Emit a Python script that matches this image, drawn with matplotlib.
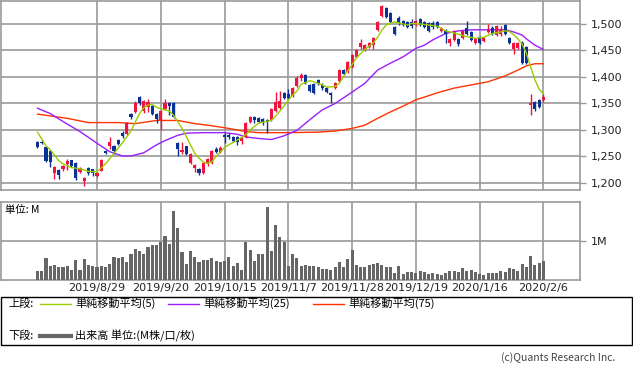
import numpy as np
import matplotlib
matplotlib.use("Agg")
import matplotlib.pyplot as plt
from matplotlib.patches import Rectangle
from matplotlib.lines import Line2D

plt.rcParams['font.family'] = ['Noto Sans CJK JP', 'DejaVu Sans']

# 日付ラベル (取引日インデックス上の位置)
date_labels = ["2019/8/29", "2019/9/20", "2019/10/15", "2019/11/7",
               "2019/11/28", "2019/12/19", "2020/1/16", "2020/2/6"]
date_pos = [14, 29, 44, 59, 74, 89, 104, 119]

opens = [1278, 1277, 1267, 1260, 1219, 1224, 1226, 1236, 1243, 1238,
         1221, 1204, 1228, 1226, 1213, 1223, 1261, 1270, 1270, 1281,
         1295, 1292, 1330, 1334, 1363, 1336, 1343, 1346, 1331, 1318,
         1340, 1350, 1350, 1276, 1259, 1269, 1238, 1229, 1227, 1219,
         1235, 1237, 1265, 1259, 1290, 1290, 1287, 1286, 1280, 1287,
         1316, 1324, 1322, 1320, 1319, 1319, 1336, 1341, 1369, 1368,
         1364, 1383, 1398, 1404, 1385, 1387, 1394, 1385, 1380, 1370,
         1379, 1393, 1414, 1410, 1419, 1438, 1456, 1451, 1456, 1460,
         1489, 1515, 1530, 1521, 1494, 1511, 1505, 1503, 1503, 1498,
         1509, 1504, 1501, 1501, 1504, 1487, 1489, 1464, 1469, 1471,
         1473, 1492, 1484, 1464, 1476, 1468, 1485, 1492, 1479, 1481,
         1498, 1473, 1452, 1455, 1465, 1456, 1347, 1353, 1357, 1357]
highs = [1280, 1281, 1268, 1262, 1232, 1226, 1234, 1245, 1244, 1240,
         1231, 1212, 1230, 1227, 1221, 1246, 1263, 1286, 1271, 1283,
         1298, 1315, 1333, 1354, 1365, 1357, 1358, 1348, 1332, 1337,
         1358, 1352, 1353, 1278, 1278, 1270, 1257, 1236, 1228, 1240,
         1247, 1263, 1267, 1270, 1295, 1294, 1289, 1288, 1287, 1315,
         1326, 1326, 1324, 1322, 1321, 1341, 1372, 1373, 1371, 1378,
         1382, 1401, 1408, 1406, 1387, 1389, 1396, 1389, 1382, 1372,
         1390, 1416, 1416, 1431, 1443, 1453, 1471, 1462, 1466, 1475,
         1505, 1535, 1532, 1523, 1496, 1516, 1507, 1505, 1509, 1508,
         1512, 1506, 1503, 1505, 1506, 1494, 1491, 1474, 1488, 1473,
         1488, 1506, 1486, 1473, 1478, 1476, 1500, 1496, 1498, 1496,
         1500, 1475, 1466, 1466, 1467, 1458, 1367, 1355, 1359, 1368]
lows = [1266, 1273, 1240, 1231, 1207, 1207, 1222, 1225, 1230, 1205,
        1219, 1194, 1216, 1213, 1211, 1222, 1254, 1265, 1255, 1271,
        1285, 1290, 1321, 1332, 1347, 1333, 1334, 1329, 1313, 1300,
        1338, 1328, 1322, 1250, 1255, 1252, 1236, 1221, 1215, 1217,
        1233, 1235, 1257, 1257, 1276, 1283, 1278, 1272, 1274, 1285,
        1314, 1313, 1314, 1310, 1294, 1317, 1334, 1339, 1358, 1358,
        1362, 1381, 1393, 1386, 1372, 1368, 1385, 1375, 1370, 1350,
        1377, 1391, 1404, 1408, 1417, 1436, 1453, 1449, 1454, 1452,
        1487, 1513, 1511, 1502, 1480, 1498, 1497, 1493, 1492, 1496,
        1497, 1493, 1485, 1490, 1492, 1484, 1464, 1459, 1467, 1458,
        1471, 1480, 1467, 1462, 1463, 1466, 1483, 1480, 1477, 1478,
        1480, 1463, 1443, 1453, 1425, 1425, 1328, 1335, 1341, 1353]
closes = [1268, 1275, 1242, 1240, 1230, 1215, 1232, 1241, 1232, 1209,
          1229, 1209, 1218, 1218, 1219, 1243, 1256, 1278, 1261, 1273,
          1289, 1313, 1325, 1351, 1350, 1354, 1353, 1331, 1320, 1335,
          1350, 1345, 1324, 1264, 1263, 1254, 1255, 1234, 1219, 1238,
          1245, 1261, 1259, 1266, 1287, 1286, 1280, 1278, 1284, 1313,
          1324, 1318, 1316, 1315, 1315, 1339, 1353, 1355, 1360, 1360,
          1380, 1399, 1404, 1388, 1374, 1370, 1387, 1380, 1372, 1366,
          1388, 1414, 1406, 1429, 1441, 1451, 1464, 1460, 1464, 1473,
          1503, 1533, 1513, 1504, 1482, 1501, 1499, 1495, 1497, 1506,
          1499, 1495, 1487, 1495, 1494, 1492, 1481, 1472, 1486, 1462,
          1486, 1482, 1469, 1471, 1465, 1474, 1490, 1482, 1496, 1490,
          1482, 1465, 1464, 1464, 1427, 1427, 1350, 1339, 1343, 1362]

# 出来高 (M)
volume = [0.23, 0.23, 0.56, 0.37, 0.38, 0.34, 0.34, 0.37, 0.26, 0.51,
          0.26, 0.54, 0.38, 0.37, 0.34, 0.37, 0.34, 0.41, 0.59, 0.57,
          0.59, 0.47, 0.67, 0.79, 0.74, 0.67, 0.85, 0.90, 0.90, 0.96,
          1.13, 0.92, 1.77, 1.33, 0.72, 0.41, 0.74, 0.59, 0.47, 0.51,
          0.51, 0.56, 0.49, 0.47, 0.49, 0.59, 0.36, 0.44, 0.26, 0.97,
          0.77, 0.49, 0.67, 0.67, 1.87, 0.74, 1.41, 1.10, 0.97, 0.36,
          0.67, 0.56, 0.36, 0.38, 0.36, 0.36, 0.33, 0.28, 0.28, 0.26,
          0.33, 0.46, 0.33, 0.54, 0.77, 0.38, 0.33, 0.33, 0.38, 0.41,
          0.44, 0.38, 0.33, 0.33, 0.18, 0.36, 0.15, 0.21, 0.21, 0.18,
          0.23, 0.21, 0.15, 0.18, 0.15, 0.13, 0.18, 0.23, 0.23, 0.21,
          0.31, 0.23, 0.26, 0.21, 0.15, 0.13, 0.18, 0.18, 0.18, 0.23,
          0.21, 0.31, 0.28, 0.23, 0.41, 0.33, 0.62, 0.38, 0.44, 0.49]

# 移動平均 (読み取り値)
ma5_x = [0, 2, 3, 5, 6, 8, 10, 12, 14, 16, 18, 20, 22, 23, 24, 25, 26, 27, 28, 29,
         31, 32, 34, 36, 37, 38, 39, 40, 41, 42, 44, 45, 47, 49, 50, 52, 55, 56, 58, 59,
         60, 61, 62, 64, 65, 67, 68, 70, 71, 72, 74, 75, 77, 79, 80, 81, 82, 84, 85, 87,
         88, 90, 92, 94, 96, 98, 101, 103, 105, 107, 109, 110, 111, 112, 113, 114, 115,
         116, 117, 118, 119]
ma5_y = [1296, 1270, 1263, 1242, 1236, 1229, 1227, 1222, 1221, 1236, 1256, 1276, 1298,
         1315, 1331, 1342, 1347, 1348, 1343, 1340, 1336, 1328, 1303, 1272, 1256, 1247,
         1240, 1237, 1240, 1250, 1267, 1272, 1281, 1291, 1300, 1313, 1318, 1326, 1345,
         1356, 1366, 1373, 1386, 1393, 1391, 1385, 1381, 1382, 1388, 1401, 1423, 1436,
         1452, 1464, 1475, 1488, 1498, 1504, 1502, 1498, 1501, 1500, 1498, 1496, 1487,
         1483, 1476, 1473, 1475, 1482, 1485, 1487, 1486, 1480, 1472, 1462, 1445, 1419,
         1395, 1377, 1368]
ma25_x = [0, 3, 6, 10, 14, 17, 20, 22, 25, 28, 30, 33, 35, 39, 44, 47, 49, 52, 55, 58,
          60, 61, 64, 67, 70, 73, 77, 80, 83, 86, 89, 91, 93, 96, 99, 102, 106, 110, 112,
          114, 115, 117, 119]
ma25_y = [1341, 1331, 1316, 1297, 1275, 1259, 1251, 1251, 1257, 1272, 1280, 1290, 1294,
          1295, 1295, 1292, 1287, 1284, 1282, 1289, 1296, 1299, 1319, 1338, 1350, 1366,
          1388, 1413, 1426, 1438, 1454, 1460, 1470, 1482, 1487, 1489, 1489, 1489, 1485,
          1479, 1472, 1460, 1452]
ma75_x = [0, 7, 12, 19, 23, 28, 33, 37, 41, 45, 49, 52, 59, 66, 70, 74, 77, 80, 83, 86,
          89, 91, 94, 98, 102, 106, 110, 113, 115, 117, 119]
ma75_y = [1330, 1322, 1314, 1314, 1312, 1318, 1318, 1312, 1308, 1303, 1297, 1295, 1295,
          1296, 1298, 1303, 1309, 1322, 1334, 1345, 1357, 1362, 1370, 1379, 1385, 1391,
          1402, 1413, 1421, 1425, 1425]

price_ticks = [1200, 1250, 1300, 1350, 1400, 1450, 1500]

UP = '#f0143c'
DOWN = '#0a3296'
GRID = '#999999'
W, H = 633, 371


def px_box(x0, y0, x1, y1):
    # ピクセル座標 (左上基準) -> figure座標
    return [x0 / W, 1 - y1 / H, (x1 - x0) / W, (y1 - y0) / H]


def style_axes(ax):
    for s in ax.spines.values():
        s.set_color(GRID)
        s.set_linewidth(1.2)
    ax.yaxis.tick_right()
    ax.tick_params(axis='y', colors=GRID, length=4, width=1, pad=4,
                   labelcolor='#222222', labelsize=8)
    ax.set_xticks(date_pos)
    ax.grid(True, color=GRID, linewidth=1.2)
    ax.set_axisbelow(True)
    ax.set_xlim(-8.7, 127.5)


fig = plt.figure(figsize=(W / 100, H / 100), dpi=100)

# 上段: ローソク足
ax = fig.add_axes(px_box(0.5, 0.5, 579.5, 190))
x = np.arange(len(opens))
o = np.array(opens); c = np.array(closes)
up = c >= o
cols = np.where(up, UP, DOWN)
ax.vlines(x, lows, highs, colors=cols, linewidth=1.0, zorder=3)
body = np.maximum(np.abs(c - o), 1.2)
ax.bar(x, body, bottom=np.minimum(o, c), width=0.72, color=cols, linewidth=0, zorder=4)
ax.plot(ma75_x, ma75_y, color='#ff3300', lw=1.0, zorder=2)
ax.plot(ma25_x, ma25_y, color='#9a1eff', lw=1.0, zorder=2)
ax.plot(ma5_x, ma5_y, color='#9acd00', lw=1.0, zorder=5)
style_axes(ax)
ax.set_ylim(1186.8, 1544.3)
ax.set_yticks(price_ticks)
ax.set_yticklabels([f"{v:,}" for v in price_ticks], family='DejaVu Sans')
ax.tick_params(axis='x', length=0, labelbottom=False)

# 下段: 出来高
axv = fig.add_axes(px_box(0.5, 201.7, 579.5, 280))
axv.bar(x, volume, width=0.72, color='#666666', linewidth=0, zorder=3)
style_axes(axv)
axv.set_ylim(0, 2.0)
axv.set_yticks([1.0])
axv.set_yticklabels(['1M'], family='DejaVu Sans')
axv.set_xticklabels(date_labels, family='DejaVu Sans')
axv.tick_params(axis='x', length=0, pad=2, labelsize=8, labelcolor='#222222')
fig.text(5 / W, 1 - 210 / H, '単位: M', fontsize=7.5, va='center')

# 凡例ボックス
fig.patches.append(Rectangle((0.5 / W, 1 - 345 / H), 631.5 / W, 48.5 / H,
                             transform=fig.transFigure, fill=False,
                             edgecolor='black', linewidth=1.0))


def legend_item(x_line, x_text, y, color, label, lw=1.0):
    fy = 1 - y / H
    fig.lines.append(Line2D([x_line / W, (x_line + 31) / W], [fy, fy],
                            transform=fig.transFigure, color=color, linewidth=lw))
    fig.text(x_text / W, fy, label, fontsize=8, va='center', ha='left')


fig.text(8 / W, 1 - 303.5 / H, '上段:', fontsize=8, va='center')
legend_item(40, 75, 303.5, '#9acd00', '単純移動平均(5)')
legend_item(168, 203, 303.5, '#9a1eff', '単純移動平均(25)')
legend_item(313, 348, 303.5, '#ff3300', '単純移動平均(75)')
fig.text(8 / W, 1 - 336 / H, '下段:', fontsize=8, va='center')
legend_item(40, 75, 336, '#666666', '出来高 単位:(M株/口/枚)', lw=3.0)

fig.text(615 / W, 1 - 358 / H, '(c)Quants Research Inc.', fontsize=7.5,
         ha='right', va='center', color='#444444')

fig.savefig('out.png', dpi=100)
